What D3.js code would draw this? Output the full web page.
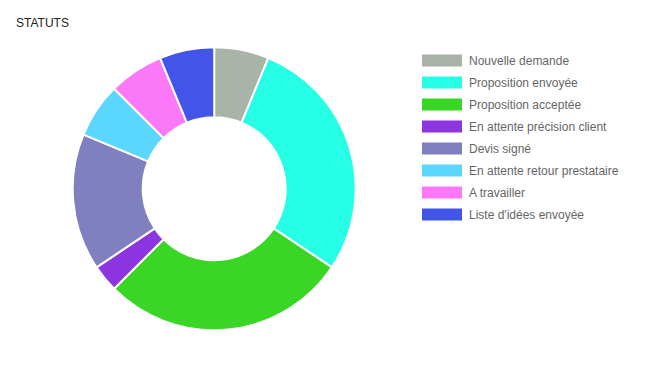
<!DOCTYPE html>
<html><head><meta charset="utf-8">
<script src="https://cdn.jsdelivr.net/npm/d3@7"></script>
<style>body{margin:0;background:#fff;}svg{display:block;}</style>
</head><body>
<svg id="c" width="647" height="374"></svg>
<script>
const categories = ["Nouvelle demande","Proposition envoyée","Proposition acceptée","En attente précision client","Devis signé","En attente retour prestataire","A travailler","Liste d'idées envoyée"];
const values = [2, 9, 9, 1, 5, 2, 2, 2];
const colors = ["#a9b3a8","#26ffe6","#39d626","#8c35e0","#8080c0","#5bd6ff","#fb78f8","#4354e8"];
const title = "STATUTS";

const svg = d3.select("#c");
svg.append("text").attr("x",16).attr("y",26.5).attr("font-family","Liberation Sans, Arial, sans-serif")
  .attr("font-size",12).attr("fill","#222").text(title);

const cx = 214.2, cy = 188.7, rO = 141.5, rI = 71.5;
const pie = d3.pie().sort(null).value(d=>d)(values);
const arc = d3.arc().innerRadius(rI).outerRadius(rO);
const g = svg.append("g").attr("transform",`translate(${cx},${cy})`);
g.selectAll("path").data(pie).join("path").attr("d",arc)
  .attr("fill",(d,i)=>colors[i]).attr("stroke","#fff").attr("stroke-width",2);

const y = d3.scaleBand().domain(categories).range([50, 50+22*categories.length]);
const lg = svg.append("g");
lg.selectAll("rect").data(categories).join("rect")
  .attr("x",422).attr("y",d=>y(d)+4.5).attr("width",40).attr("height",12)
  .attr("fill",(d,i)=>colors[i]);
lg.selectAll("text").data(categories).join("text")
  .attr("x",469).attr("y",d=>y(d)+14.5)
  .attr("font-family","Liberation Sans, Arial, sans-serif").attr("font-size",12).attr("fill","#666").text(d=>d);
</script>
</body></html>
